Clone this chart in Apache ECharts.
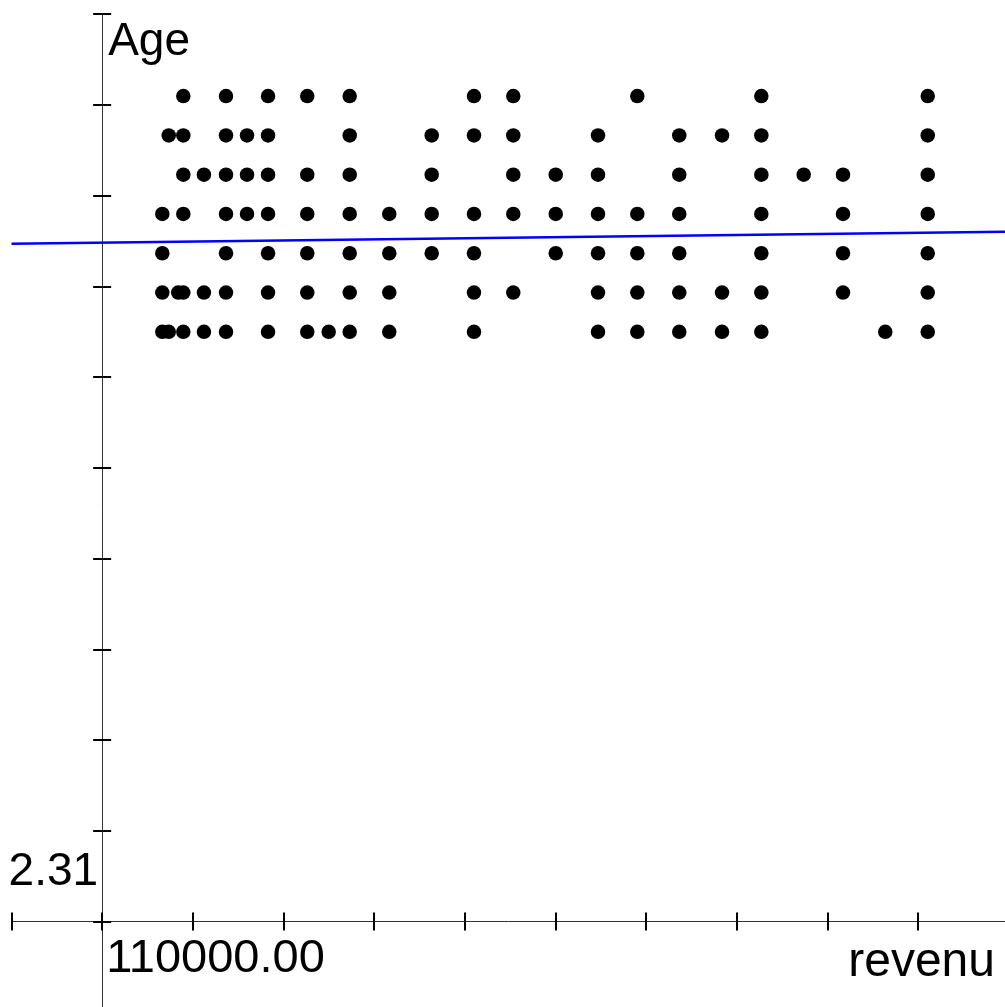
<!DOCTYPE html>
<html>
<head>
<meta charset="utf-8">
<title>Age vs revenu</title>
<script src="https://cdn.jsdelivr.net/npm/echarts@6/dist/echarts.min.js"></script>
<style>
  html, body { margin: 0; padding: 0; background: #fff; }
  #chart { width: 1005px; height: 1007px; }
</style>
</head>
<body>
<div id="chart"></div>
<script>
// ===== data =====
// x ticks start at 0, one step left of the origin (110000)
var xMin = 0;
var xMax = 1210000;
var xStep = 110000;
var xOriginLabel = 110000;

// y ticks start at 0, origin label is 2.31
var yMin = 0;
var yMax = 25.41;
var yStep = 2.31;
var yOriginLabel = 2.31;

// age rows, top to bottom
var ageRows = [23.32, 22.32, 21.32, 20.32, 19.32, 18.32, 17.32];

// revenu values for each age row
var revenuRow1 = [208500, 260300, 311300, 358900, 410400, 561200, 608900, 759400, 909900, 1111800];
var revenuRow2 = [190800, 208500, 260300, 285800, 311300, 410400, 509900, 561200, 608900, 711700, 810300, 862200, 909900, 1111800];
var revenuRow3 = [208500, 233500, 260300, 285800, 311300, 358900, 410400, 509900, 608900, 660400, 711700, 810300, 909900, 961300, 1009000, 1111800];
var revenuRow4 = [183000, 208500, 260300, 285800, 311300, 358900, 410400, 458400, 509900, 561200, 608900, 660400, 711700, 759400, 810300, 909900, 1009000, 1111800];
var revenuRow5 = [183000, 260300, 311300, 358900, 410400, 458400, 509900, 561200, 660400, 711700, 759400, 810300, 909900, 1009000, 1111800];
var revenuRow6 = [183000, 202300, 208500, 233500, 260300, 311300, 358900, 410400, 458400, 561200, 608900, 711700, 759400, 810300, 862200, 909900, 1009000, 1111800];
var revenuRow7 = [183000, 190800, 208500, 233500, 260300, 311300, 358900, 384900, 410400, 458400, 561200, 711700, 759400, 810300, 862200, 909900, 1060300, 1111800];

// fitted line, end points
var fitRevenu = [0, 1210000];
var fitAge = [19.56, 19.87];

(function () {
  var myChart = echarts.init(document.getElementById('chart'));

  var rows = [revenuRow1, revenuRow2, revenuRow3, revenuRow4, revenuRow5, revenuRow6, revenuRow7];
  var points = [];
  rows.forEach(function (row, i) {
    row.forEach(function (r) {
      points.push([r, ageRows[i]]);
    });
  });
  var fitLine = fitRevenu.map(function (r, i) {
    return [r, fitAge[i]];
  });

  var font = "'Liberation Sans', Arial, sans-serif";

  var axisLine = { show: true, lineStyle: { color: '#333', width: 1 } };
  var tickStyle = { color: '#000', width: 2 };

  var option = {
    animation: false,
    backgroundColor: '#fff',
    grid: {
      left: 11.5,
      top: 14,
      right: -3.65,
      bottom: -5.25,
      containLabel: false,
      // let the grid run past the edges of the page
      outerBoundsMode: 'none'
    },
    xAxis: [
      {
        type: 'value',
        position: 'bottom',
        offset: -90.75,
        min: xMin,
        max: xMax,
        interval: xStep,
        name: 'revenu',
        nameLocation: 'end',
        nameGap: -13.65,
        nameMoveOverlap: false,
        nameTextStyle: {
          fontFamily: font,
          fontSize: 48,
          color: '#000',
          align: 'right',
          verticalAlign: 'top',
          padding: [17, 0, 0, 0]
        },
        axisLine: axisLine,
        axisTick: { show: true, length: 9, lineStyle: tickStyle },
        splitLine: { show: false },
        axisLabel: {
          fontFamily: font,
          fontSize: 47,
          color: '#000',
          align: 'left',
          verticalAlign: 'top',
          margin: 14,
          padding: [0, 0, 0, 4],
          showMinLabel: true,
          showMaxLabel: true,
          formatter: function (v) {
            return Math.abs(v - xOriginLabel) < 1e-6 ? xOriginLabel.toFixed(2) : '';
          }
        }
      },
      {
        // ticks on the inner side
        type: 'value',
        position: 'bottom',
        offset: -90.75,
        min: xMin,
        max: xMax,
        interval: xStep,
        axisLine: { show: false },
        axisTick: { show: true, inside: true, length: 9, lineStyle: tickStyle },
        splitLine: { show: false },
        axisLabel: { show: false }
      }
    ],
    yAxis: [
      {
        type: 'value',
        position: 'left',
        offset: -90.65,
        min: yMin,
        max: yMax,
        interval: yStep,
        name: 'Age',
        nameLocation: 'end',
        nameGap: -28.5,
        nameMoveOverlap: false,
        nameTextStyle: {
          fontFamily: font,
          fontSize: 46,
          color: '#000',
          align: 'left',
          verticalAlign: 'middle',
          padding: [0, 0, 0, 6]
        },
        axisLine: axisLine,
        axisTick: { show: true, length: 9, lineStyle: tickStyle },
        splitLine: { show: false },
        axisLabel: {
          fontFamily: font,
          fontSize: 46,
          color: '#000',
          align: 'right',
          verticalAlign: 'bottom',
          margin: 4,
          padding: [0, 0, 26, 0],
          formatter: function (v) {
            return Math.abs(v - yOriginLabel) < 1e-6 ? yOriginLabel.toFixed(2) : '';
          }
        }
      },
      {
        // ticks on the inner side
        type: 'value',
        position: 'left',
        offset: -90.65,
        min: yMin,
        max: yMax,
        interval: yStep,
        axisLine: { show: false },
        axisTick: { show: true, inside: true, length: 9, lineStyle: tickStyle },
        splitLine: { show: false },
        axisLabel: { show: false }
      }
    ],
    series: [
      {
        name: 'points',
        type: 'scatter',
        xAxisIndex: 0,
        yAxisIndex: 0,
        symbol: 'circle',
        symbolSize: 14.5,
        itemStyle: { color: '#000', opacity: 1 },
        data: points
      },
      {
        name: 'fit',
        type: 'line',
        xAxisIndex: 0,
        yAxisIndex: 0,
        showSymbol: false,
        symbol: 'none',
        lineStyle: { color: '#0000ff', width: 2.5 },
        data: fitLine
      }
    ]
  };

  myChart.setOption(option);
  window.addEventListener('resize', function () {
    myChart.resize();
  });
})();
</script>
</body>
</html>
